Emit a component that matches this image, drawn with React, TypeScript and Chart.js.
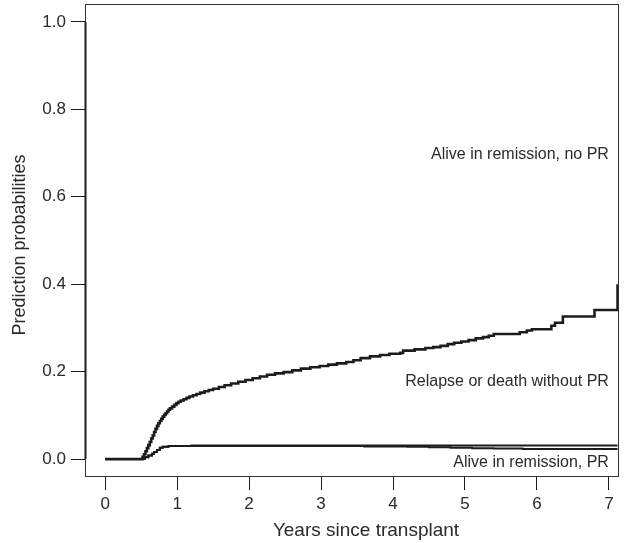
import React, { useEffect, useRef } from "react";
import { Chart, registerables } from "chart.js";

Chart.register(...registerables);

// ---- data ----
const xTicks = [0, 1, 2, 3, 4, 5, 6, 7];
const yTicks = [0, 0.2, 0.4, 0.6, 0.8, 1.0];

// cumulative boundary: PR states + relapse or death without PR
const upperTimes = [
  0, 0.5, 0.52, 0.54, 0.56, 0.58, 0.6, 0.62, 0.64, 0.66, 0.68, 0.7, 0.72, 0.74, 0.76, 0.78,
  0.8, 0.82, 0.84, 0.86, 0.88, 0.9, 0.93, 0.96, 0.99, 1.02, 1.05, 1.09, 1.13, 1.17, 1.22,
  1.27, 1.32, 1.38, 1.44, 1.5, 1.58, 1.66, 1.75, 1.85, 1.95, 2.05,
  2.15, 2.25, 2.36, 2.48, 2.6, 2.72, 2.85, 2.98, 3.1, 3.22, 3.35, 3.45, 3.55, 3.68, 3.82,
  3.95, 4.1, 4.14, 4.3, 4.45, 4.56, 4.66, 4.76, 4.85, 4.95, 5.05, 5.15, 5.25, 5.33, 5.4,
  5.76, 5.86, 5.93, 6.2, 6.25, 6.36, 6.8, 7.1, 7.12,
];
const upperValues = [
  0, 0, 0.005, 0.011, 0.018, 0.025, 0.032, 0.039, 0.047, 0.054, 0.062, 0.069, 0.076, 0.082, 0.087, 0.092,
  0.097, 0.101, 0.105, 0.109, 0.113, 0.116, 0.12, 0.124, 0.128, 0.131, 0.134, 0.137, 0.14, 0.143, 0.146,
  0.149, 0.152, 0.155, 0.158, 0.161, 0.165, 0.169, 0.173, 0.177, 0.181, 0.185,
  0.189, 0.193, 0.196, 0.199, 0.203, 0.207, 0.21, 0.213, 0.216, 0.219, 0.222, 0.226, 0.231, 0.235, 0.238,
  0.241, 0.243, 0.248, 0.251, 0.254, 0.256, 0.259, 0.263, 0.266, 0.269, 0.272, 0.276, 0.279, 0.282, 0.286,
  0.29, 0.294, 0.297, 0.305, 0.312, 0.326, 0.341, 0.341, 0.4,
];

// cumulative boundary: alive in remission PR + relapse/death after PR
const prCumTimes = [0, 0.5, 0.55, 0.6, 0.65, 0.68, 0.72, 0.76, 0.8, 0.88, 1.2, 3.5, 5.0, 7.12];
const prCumValues = [0, 0, 0.004, 0.008, 0.012, 0.016, 0.021, 0.026, 0.028, 0.03, 0.031, 0.031, 0.031, 0.031];

// alive in remission, PR
const prTimes = [0, 0.5, 0.55, 0.6, 0.65, 0.68, 0.72, 0.76, 0.8, 0.88, 1.2, 3.6, 3.9, 4.2, 4.5, 4.8, 5.1, 5.4, 5.8, 7.12];
const prValues = [0, 0, 0.004, 0.008, 0.012, 0.016, 0.021, 0.026, 0.028, 0.03, 0.03, 0.029, 0.0285, 0.028, 0.027, 0.026, 0.025, 0.024, 0.023, 0.023];

const stateLabels = ["Alive in remission, no PR", "Relapse or death without PR", "Alive in remission, PR"];
const labelX = [7.0, 7.0, 7.0];
const labelY = [0.696, 0.178, -0.007];

const xTitle = "Years since transplant";
const yTitle = "Prediction probabilities";

const toPoints = (t: number[], v: number[]) => t.map((x, i) => ({ x, y: v[i] }));

const INK = "#1c1c1c";
const TEXT = "#2a2a2a";
const FONT = "'Liberation Sans', Arial, sans-serif";

const framePlugin = {
  id: "frame",
  afterDraw(chart: any) {
    const { ctx, chartArea } = chart;
    const xs = chart.scales.x;
    const ys = chart.scales.y;
    ctx.save();
    ctx.strokeStyle = "#333";
    ctx.lineWidth = 1;
    ctx.strokeRect(chartArea.left + 0.5, chartArea.top + 0.5, chartArea.right - chartArea.left - 1, chartArea.bottom - chartArea.top - 1);
    // R-style axis segment
    ctx.strokeStyle = INK;
    ctx.lineWidth = 2;
    ctx.beginPath();
    ctx.moveTo(chartArea.left + 0.5, ys.getPixelForValue(yTicks[0]));
    ctx.lineTo(chartArea.left + 0.5, ys.getPixelForValue(yTicks[yTicks.length - 1]));
    ctx.stroke();
    // state labels
    ctx.fillStyle = TEXT;
    ctx.font = `16px ${FONT}`;
    ctx.textAlign = "right";
    ctx.textBaseline = "middle";
    stateLabels.forEach((s, i) => {
      ctx.fillText(s, xs.getPixelForValue(labelX[i]), ys.getPixelForValue(labelY[i]));
    });
    // axis titles
    ctx.font = `19px ${FONT}`;
    ctx.textAlign = "center";
    ctx.fillText(xTitle, 366, 531);
    ctx.font = `18px ${FONT}`;
    ctx.translate(20, 245);
    ctx.rotate(-Math.PI / 2);
    ctx.fillText(yTitle, 0, 0);
    ctx.restore();
  },
};

export default function App() {
  const ref = useRef<HTMLCanvasElement | null>(null);
  useEffect(() => {
    if (!ref.current) return;
    const common = { borderColor: INK, pointRadius: 0, stepped: "before" as const, fill: false };
    const chart = new Chart(ref.current, {
      type: "line",
      data: {
        datasets: [
          { ...common, data: toPoints(upperTimes, upperValues), borderWidth: 2.6 },
          { ...common, data: toPoints(prCumTimes, prCumValues), borderWidth: 2 },
          { ...common, data: toPoints(prTimes, prValues), borderWidth: 2 },
        ],
      },
      options: {
        responsive: false,
        animation: false,
        layout: { padding: { top: 4, right: 7, left: 0, bottom: 0 } },
        plugins: { legend: { display: false }, tooltip: { enabled: false } },
        scales: {
          x: {
            type: "linear",
            min: -0.28,
            max: 7.14,
            afterBuildTicks: (s: any) => {
              s.ticks = xTicks.map((v) => ({ value: v }));
            },
            afterFit: (s: any) => {
              s.height = 66;
              s.paddingLeft = 0;
              s.paddingRight = 0;
              s.paddingTop = 0;
              s.paddingBottom = 0;
            },
            grid: { drawOnChartArea: false, drawTicks: true, tickLength: 13, color: INK, lineWidth: 1 },
            border: { display: false },
            ticks: {
              color: TEXT,
              font: { size: 17, family: FONT },
              padding: 4,
              maxRotation: 0,
              callback: (v: any) => String(v),
            },
          },
          y: {
            type: "linear",
            min: -0.041,
            max: 1.041,
            afterBuildTicks: (s: any) => {
              s.ticks = yTicks.map((v) => ({ value: v }));
            },
            afterFit: (s: any) => {
              s.width = 85;
              s.paddingLeft = 0;
              s.paddingRight = 0;
              s.paddingTop = 0;
              s.paddingBottom = 0;
            },
            grid: { drawOnChartArea: false, drawTicks: true, tickLength: 14, color: INK, lineWidth: 1 },
            border: { display: false },
            ticks: {
              color: TEXT,
              font: { size: 17, family: FONT },
              padding: 5,
              callback: (v: any) => Number(v).toFixed(1),
            },
          },
        },
      },
      plugins: [framePlugin],
    });
    return () => chart.destroy();
  }, []);
  return (
    <div style={{ position: "fixed", left: 0, top: 0, width: 626, height: 543, background: "#fff" }}>
      <canvas ref={ref} width={626} height={543} style={{ width: 626, height: 543 }} />
    </div>
  );
}
